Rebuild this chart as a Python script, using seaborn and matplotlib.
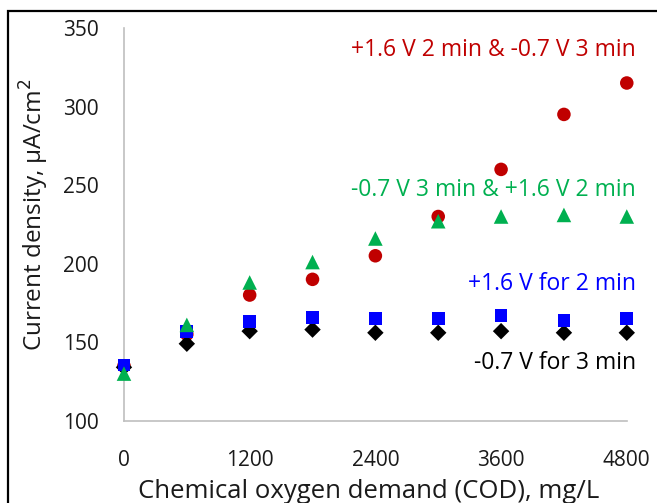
import matplotlib
matplotlib.use("Agg")
import matplotlib.pyplot as plt
from matplotlib.patches import Rectangle
import seaborn as sns
import pandas as pd

# COD concentration (mg/L)
cod = [0, 600, 1200, 1800, 2400, 3000, 3600, 4200, 4800]

# Current density (uA/cm2) for each polarization protocol
neg_only = [134, 149, 157, 158, 156, 156, 157, 156, 156]
pos_only = [135.5, 157, 163, 165.5, 165, 165, 167, 164, 165]
pos_then_neg = [135, 155, 180, 190, 205, 230, 260, 295, 315]
neg_then_pos = [130, 161, 188, 201, 216, 227, 230, 231, 230]

series_names = [
    "-0.7 V for 3 min",
    "+1.6 V for 2 min",
    "+1.6 V 2 min & -0.7 V 3 min",
    "-0.7 V 3 min & +1.6 V 2 min",
]
series_values = [neg_only, pos_only, pos_then_neg, neg_then_pos]
colors = ["#000000", "#0000FF", "#C00000", "#00B050"]
markers = ["D", "s", "o", "^"]
sizes = [70, 85, 95, 110]
layer = [3, 4, 2, 5]

x_ticks = [0, 1200, 2400, 3600, 4800]
y_ticks = [100, 150, 200, 250, 300, 350]

sns.set_theme(style="white")
plt.rcParams["font.family"] = ["Open Sans", "DejaVu Sans"]

fig = plt.figure(figsize=(6.57, 5.03), dpi=100)
ax = fig.add_axes([0.1887, 0.1636, 0.954 - 0.1887, 0.9443 - 0.1636])

for vals, c, m, s, z in zip(series_values, colors, markers, sizes, layer):
    df = pd.DataFrame({"cod": cod, "j": vals})
    sns.scatterplot(data=df, x="cod", y="j", ax=ax, color=c, marker=m, s=s,
                    edgecolor="none", linewidth=0, clip_on=False, zorder=z)

ax.set_xlim(0, 4800)
ax.set_ylim(100, 350)
ax.set_xticks(x_ticks)
ax.set_yticks(y_ticks)
ax.set_xticklabels([str(v) for v in x_ticks])
ax.set_yticklabels([str(v) for v in y_ticks])

axis_grey = "#BFBFBF"
text_dark = "#1a1a1a"
for side in ["top", "right"]:
    ax.spines[side].set_visible(False)
for side in ["left", "bottom"]:
    ax.spines[side].set_color(axis_grey)
    ax.spines[side].set_linewidth(1.2)
ax.tick_params(axis="both", direction="in", length=6, width=1.2, color=axis_grey,
               labelsize=15, labelcolor=text_dark)
ax.tick_params(axis="x", pad=21)
ax.tick_params(axis="y", pad=18)

ax.set_xlabel("Chemical oxygen demand (COD), mg/L", fontsize=18.5, color=text_dark)
ax.set_ylabel("Current density, μA/cm$^2$", fontsize=17.5, color=text_dark)
ax.xaxis.set_label_coords(0.486, -0.148)
ax.yaxis.set_label_coords(-0.146, 0.525)

label_y = [137, 187, 336, 247]
for name, c, yv in zip(series_names, colors, label_y):
    ax.text(4890, yv, name, color=c, fontsize=16.5, ha="right", va="center",
            clip_on=False)

fig.patches.append(Rectangle((8 / 657, -0.5), 2, 0.978 + 0.5, transform=fig.transFigure,
                             fill=False, edgecolor="black", linewidth=1.6))

fig.savefig("out.png", dpi=100)
